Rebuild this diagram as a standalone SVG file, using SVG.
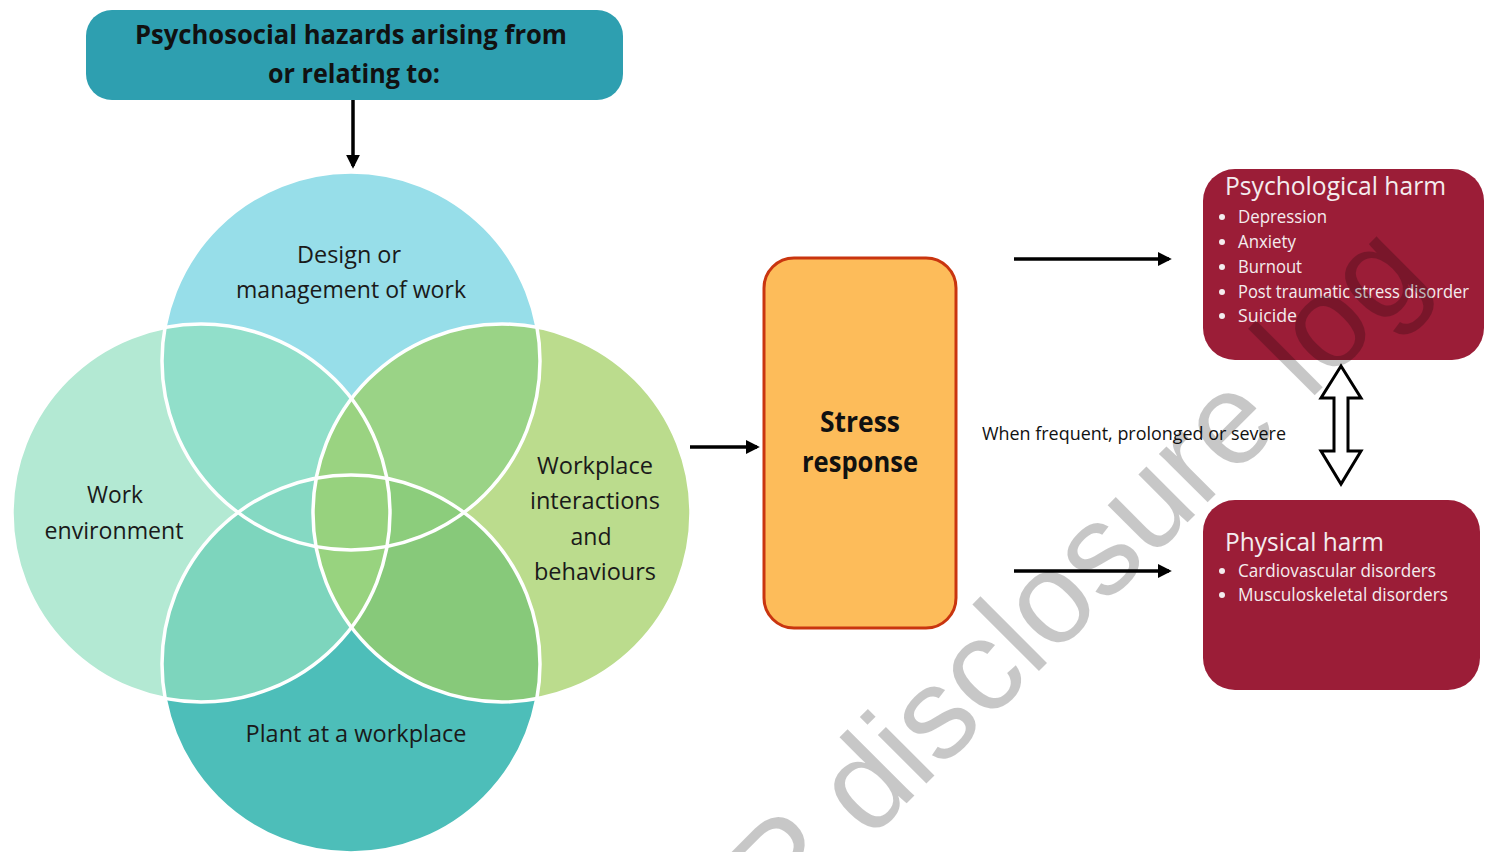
<svg xmlns="http://www.w3.org/2000/svg" width="1491" height="852" viewBox="0 0 1491 852">
  <style>
    .lbl { font-family: "Open Sans", "Noto Sans", sans-serif; font-size: 24px; fill: #1a1a1a; text-anchor: middle; }
    .bold { font-family: "Open Sans", "Noto Sans", sans-serif; font-weight: 700; fill: #111; text-anchor: middle; }
    .harm-title { font-family: "Open Sans", "Noto Sans", sans-serif; font-size: 26px; fill: #f4ecee; }
    .harm-item { font-family: "Open Sans", "Noto Sans", sans-serif; font-size: 18px; fill: #f4ecee; }
    .note { font-family: "Open Sans", "Noto Sans", sans-serif; font-size: 19px; fill: #111; }
    .ring { fill: none; stroke: #ffffff; stroke-width: 3.5; }
    .conn { stroke: #000; stroke-width: 3.5; fill: none; marker-end: url(#head); }
    .harm-box { fill: #9b1d37; }
    .dot { fill: #f4ecee; }
  </style>
  <defs>
    <marker id="head" viewBox="0 0 10 10" refX="8" refY="5" markerWidth="4" markerHeight="4" orient="auto" markerUnits="strokeWidth">
      <path d="M0,0 L10,5 L0,10 Z" fill="#000"/>
    </marker>
    <clipPath id="cT"><circle cx="351" cy="361" r="189"/></clipPath>
    <clipPath id="cL"><circle cx="201" cy="513" r="189"/></clipPath>
    <clipPath id="cR"><circle cx="502" cy="513" r="189"/></clipPath>
    <clipPath id="cB"><circle cx="351" cy="664" r="189"/></clipPath>
  </defs>

  <rect width="1491" height="852" fill="#ffffff"/>

  <!-- header -->
  <g id="hazards">
    <rect x="86" y="10" width="537" height="90" rx="26" fill="#2e9fb0"/>
    <text class="bold" x="351" y="44" font-size="27" textLength="432" lengthAdjust="spacingAndGlyphs">Psychosocial hazards arising from</text>
    <text class="bold" x="354" y="83" font-size="27" textLength="172" lengthAdjust="spacingAndGlyphs">or relating to:</text>
  </g>

  <!-- four overlapping hazard sources -->
  <g id="design-circle"><circle cx="351" cy="361" r="189" fill="#97dee9"/></g>
  <g id="environment-circle"><circle cx="201" cy="513" r="189" fill="#b3e9d3"/></g>
  <g id="interactions-circle"><circle cx="502" cy="513" r="189" fill="#bbdc8d"/></g>
  <g id="plant-circle"><circle cx="351" cy="664" r="189" fill="#4dbeb9"/></g>

  <g id="overlaps">
    <g clip-path="url(#cT)"><circle cx="201" cy="513" r="189" fill="#91dfca"/></g>
    <g clip-path="url(#cT)"><circle cx="502" cy="513" r="189" fill="#9ad386"/></g>
    <g clip-path="url(#cB)"><circle cx="201" cy="513" r="189" fill="#7dd5bd"/></g>
    <g clip-path="url(#cB)"><circle cx="502" cy="513" r="189" fill="#87c97a"/></g>
    <g clip-path="url(#cT)"><g clip-path="url(#cB)"><circle cx="201" cy="513" r="189" fill="#85d9c3"/></g></g>
    <g clip-path="url(#cT)"><g clip-path="url(#cB)"><circle cx="502" cy="513" r="189" fill="#8ccd7c"/></g></g>
    <g clip-path="url(#cL)"><g clip-path="url(#cR)"><circle cx="351" cy="361" r="189" fill="#9ad381"/></g></g>
    <g clip-path="url(#cL)"><g clip-path="url(#cR)"><circle cx="351" cy="664" r="189" fill="#98d37f"/></g></g>
    <g clip-path="url(#cT)"><g clip-path="url(#cB)"><g clip-path="url(#cL)"><circle cx="502" cy="513" r="189" fill="#97d27e"/></g></g></g>
  </g>

  <g id="rings">
    <circle class="ring" cx="351" cy="361" r="189"/>
    <circle class="ring" cx="201" cy="513" r="189"/>
    <circle class="ring" cx="502" cy="513" r="189"/>
    <circle class="ring" cx="351" cy="664" r="189"/>
  </g>

  <g id="circle-labels">
    <text class="lbl" x="349" y="263" textLength="104" lengthAdjust="spacingAndGlyphs">Design or</text>
    <text class="lbl" x="351" y="298" textLength="230" lengthAdjust="spacingAndGlyphs">management of work</text>
    <text class="lbl" x="115" y="503" textLength="56" lengthAdjust="spacingAndGlyphs">Work</text>
    <text class="lbl" x="114" y="539" textLength="139" lengthAdjust="spacingAndGlyphs">environment</text>
    <text class="lbl" x="595" y="474" textLength="116" lengthAdjust="spacingAndGlyphs">Workplace</text>
    <text class="lbl" x="595" y="509" textLength="130" lengthAdjust="spacingAndGlyphs">interactions</text>
    <text class="lbl" x="591" y="545" textLength="41" lengthAdjust="spacingAndGlyphs">and</text>
    <text class="lbl" x="595" y="580" textLength="122" lengthAdjust="spacingAndGlyphs">behaviours</text>
    <text class="lbl" x="356" y="742" textLength="221" lengthAdjust="spacingAndGlyphs">Plant at a workplace</text>
  </g>

  <!-- stress response -->
  <g id="stress-response">
    <rect x="764" y="258" width="192" height="370" rx="30" fill="#fdbc5a" stroke="#c9350f" stroke-width="3"/>
    <text class="bold" x="860" y="432" font-size="28" textLength="80" lengthAdjust="spacingAndGlyphs">Stress</text>
    <text class="bold" x="860" y="472" font-size="28" textLength="116" lengthAdjust="spacingAndGlyphs">response</text>
  </g>

  <!-- outcomes -->
  <g id="psychological-harm">
    <rect class="harm-box" x="1203" y="169" width="281" height="191" rx="32"/>
    <text class="harm-title" x="1225" y="195" textLength="221" lengthAdjust="spacingAndGlyphs">Psychological harm</text>
    <circle class="dot" cx="1222" cy="217" r="3"/>
    <text class="harm-item" x="1238" y="223" textLength="89" lengthAdjust="spacingAndGlyphs">Depression</text>
    <circle class="dot" cx="1222" cy="242" r="3"/>
    <text class="harm-item" x="1238" y="248" textLength="58" lengthAdjust="spacingAndGlyphs">Anxiety</text>
    <circle class="dot" cx="1222" cy="267" r="3"/>
    <text class="harm-item" x="1238" y="273" textLength="64" lengthAdjust="spacingAndGlyphs">Burnout</text>
    <circle class="dot" cx="1222" cy="292" r="3"/>
    <text class="harm-item" x="1238" y="298" textLength="231" lengthAdjust="spacingAndGlyphs">Post traumatic stress disorder</text>
    <circle class="dot" cx="1222" cy="316" r="3"/>
    <text class="harm-item" x="1238" y="322" textLength="59" lengthAdjust="spacingAndGlyphs">Suicide</text>
  </g>

  <g id="physical-harm">
    <rect class="harm-box" x="1203" y="500" width="277" height="190" rx="32"/>
    <text class="harm-title" x="1225" y="551" textLength="159" lengthAdjust="spacingAndGlyphs">Physical harm</text>
    <circle class="dot" cx="1222" cy="571" r="3"/>
    <text class="harm-item" x="1238" y="577" textLength="198" lengthAdjust="spacingAndGlyphs">Cardiovascular disorders</text>
    <circle class="dot" cx="1222" cy="595" r="3"/>
    <text class="harm-item" x="1238" y="601" textLength="210" lengthAdjust="spacingAndGlyphs">Musculoskeletal disorders</text>
  </g>

  <text id="condition" class="note" x="982" y="440" textLength="304" lengthAdjust="spacingAndGlyphs">When frequent, prolonged or severe</text>

  <!-- connectors -->
  <g id="connectors">
    <line class="conn" x1="353" y1="100" x2="353" y2="166"/>
    <line class="conn" x1="690" y1="447" x2="757" y2="447"/>
    <line class="conn" x1="1014" y1="259" x2="1169" y2="259"/>
    <line class="conn" x1="1014" y1="571" x2="1169" y2="571"/>
    <path d="M1341,366 L1361,398 L1348,398 L1348,451 L1361,451 L1341,484 L1321,451 L1334,451 L1334,398 L1321,398 Z" fill="#ffffff" stroke="#000" stroke-width="3" stroke-linejoin="miter"/>
  </g>

  <!-- watermark -->
  <text id="watermark" transform="translate(784,926) rotate(-45)" font-family="Liberation Sans, Arial, sans-serif" font-size="130" fill="#000" fill-opacity="0.22">P disclosure log</text>
</svg>
